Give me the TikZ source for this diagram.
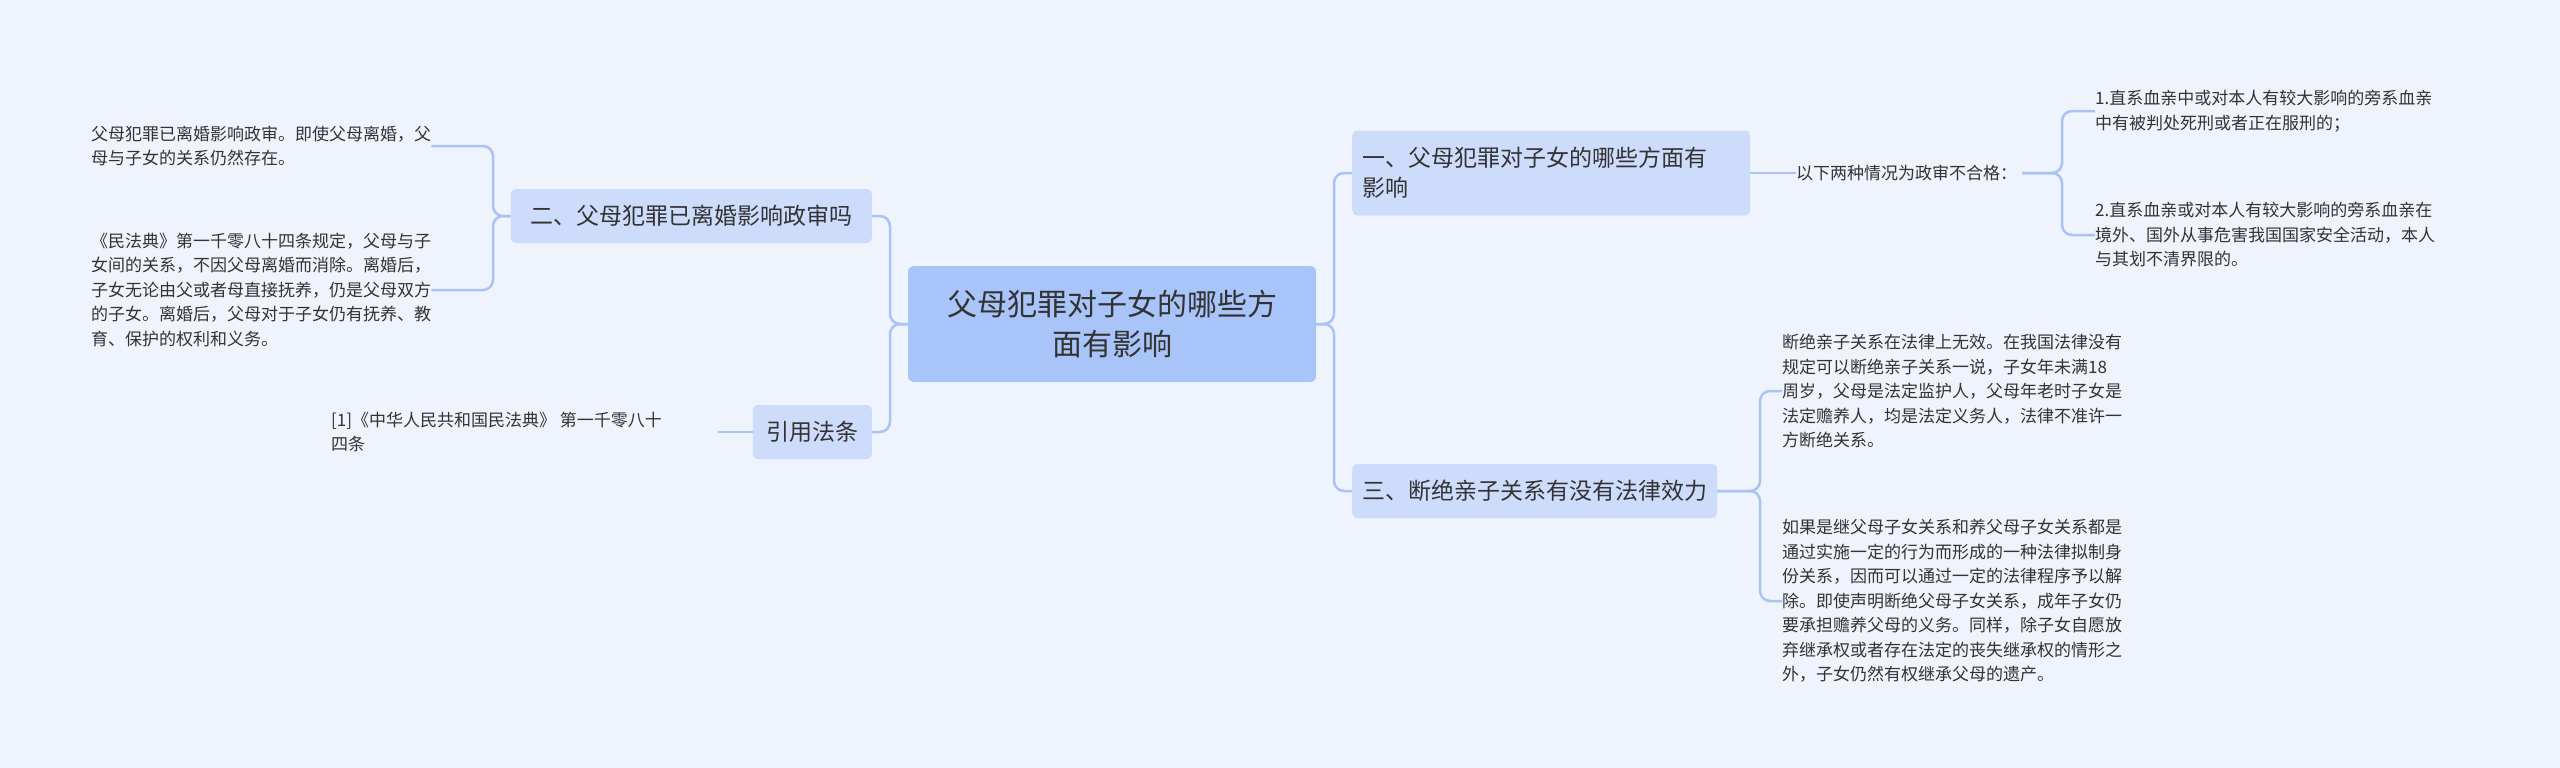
\documentclass[tikz,border=0pt]{standalone}
\usepackage{fontspec}
\setmainfont{Noto Sans CJK SC}
\XeTeXlinebreaklocale "zh"
\XeTeXlinebreakskip=0pt plus 1pt
\definecolor{bgc}{RGB}{239,243,252}
\definecolor{cfill}{RGB}{168,196,248}
\definecolor{lfill}{RGB}{205,220,251}
\definecolor{lnc}{RGB}{170,195,243}
\definecolor{tc}{RGB}{51,51,51}
\begin{document}
\begin{tikzpicture}[x=1pt,y=-1pt,
  txt/.style={text=tc},
  leaf/.style={txt,font=\fontsize{17}{24.5}\selectfont,align=left,inner sep=0pt},
  lvl/.style={txt,fill=lfill,rounded corners=5pt,font=\fontsize{23}{30}\selectfont,align=left,inner xsep=10pt,inner ysep=6pt},
  con/.style={draw=lnc,line width=2.5pt,rounded corners=10pt}]
\fill[bgc] (0,0) rectangle (2560,768);
\useasboundingbox (0,0) rectangle (2560,768);
\node[txt,fill=cfill,rounded corners=6pt,minimum width=408,minimum height=116,align=center,font=\fontsize{30}{40}\selectfont] (c) at (1112,324) {父母犯罪对子女的哪些方\\面有影响};
\node[lvl,anchor=east,minimum height=54,minimum width=361] (b2) at (872,216) {二、父母犯罪已离婚影响政审吗};
\node[lvl,anchor=east,minimum height=54,minimum width=119,align=center] (by) at (872,432) {引用法条};
\node[lvl,anchor=west,minimum height=85,text width=378] (b1) at (1352,173) {一、父母犯罪对子女的哪些方面有\\影响};
\node[lvl,anchor=west,minimum height=54] (b3) at (1352,491) {三、断绝亲子关系有没有法律效力};
\node[leaf,anchor=west] (h) at (1796,173) {以下两种情况为政审不合格：};
\node[leaf,anchor=west] (l1) at (2095,111) {1.直系血亲中或对本人有较大影响的旁系血亲\\中有被判处死刑或者正在服刑的；};
\node[leaf,anchor=west] (l2) at (2095,235) {2.直系血亲或对本人有较大影响的旁系血亲在\\境外、国外从事危害我国国家安全活动，本人\\与其划不清界限的。};
\node[leaf,anchor=west] (l3) at (1782,391) {断绝亲子关系在法律上无效。在我国法律没有\\规定可以断绝亲子关系一说，子女年未满18\\周岁，父母是法定监护人，父母年老时子女是\\法定赡养人，均是法定义务人，法律不准许一\\方断绝关系。};
\node[leaf,anchor=west] (l4) at (1782,601) {如果是继父母子女关系和养父母子女关系都是\\通过实施一定的行为而形成的一种法律拟制身\\份关系，因而可以通过一定的法律程序予以解\\除。即使声明断绝父母子女关系，成年子女仍\\要承担赡养父母的义务。同样，除子女自愿放\\弃继承权或者存在法定的丧失继承权的情形之\\外，子女仍然有权继承父母的遗产。};
\node[leaf,anchor=west] (r1) at (91,146) {父母犯罪已离婚影响政审。即使父母离婚，父\\母与子女的关系仍然存在。};
\node[leaf,anchor=west] (r2) at (91,290) {《民法典》第一千零八十四条规定，父母与子\\女间的关系，不因父母离婚而消除。离婚后，\\子女无论由父或者母直接抚养，仍是父母双方\\的子女。离婚后，父母对于子女仍有抚养、教\\育、保护的权利和义务。};
\node[leaf,anchor=west] (ry) at (331,432) {[1]《中华人民共和国民法典》 第一千零八十\\四条};
\draw[con] (c.east) -- (1334,324) |- (b1.west);
\draw[con] (c.east) -- (1334,324) |- (b3.west);
\draw[con] (c.west) -- (890,324) |- (b2.east);
\draw[con] (c.west) -- (890,324) |- (by.east);
\draw[con] (b1.east) -- ++(40,0) coordinate (hb) (hb) -- (h.west);
\draw[con] (h.east) ++(5,0) -- (2062,173) |- (l1.west);
\draw[con] (h.east) ++(5,0) -- (2062,173) |- (l2.west);
\draw[con] (b3.east) -- (1760,491) |- (l3.west);
\draw[con] (b3.east) -- (1760,491) |- (l4.west);
\draw[con] (b2.west) -- (493,216) |- (r1.east);
\draw[con] (b2.west) -- (493,216) |- (r2.east);
\draw[con] (by.west) -- ++(-35,0) coordinate (ye);
\end{tikzpicture}
\end{document}
